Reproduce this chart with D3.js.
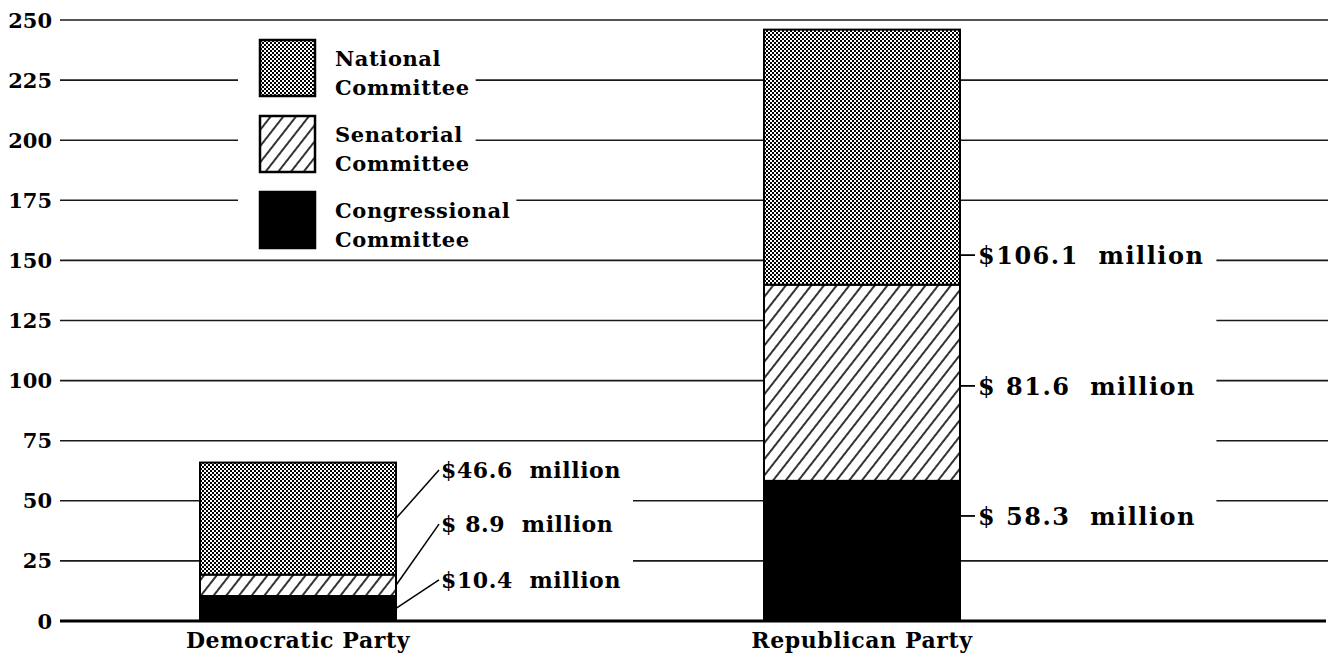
<!DOCTYPE html>
<html>
<head>
<meta charset="utf-8">
<script src="https://cdn.jsdelivr.net/npm/d3@7"></script>
<style>
  body { margin: 0; background: #fff; }
  svg text { font-family: "DejaVu Serif", "Liberation Serif", serif; font-weight: bold; fill: #000; }
</style>
</head>
<body>
<svg class="chart" width="1336" height="655"></svg>
<script>
const parties = ["Democratic Party", "Republican Party"];
const committees = ["National Committee", "Senatorial Committee", "Congressional Committee"];
// stacked bottom -> top: congressional, senatorial, national
const congressional = [10.4, 58.3];
const senatorial = [8.9, 81.6];
const national = [46.6, 106.1];
const yTicks = [0, 25, 50, 75, 100, 125, 150, 175, 200, 225, 250];

let svg = d3.select("svg.chart"),
    margin = {top: 20, bottom: 34, left: 60, right: 8},
    width = +svg.attr("width"),
    height = +svg.attr("height");

let y = d3.scaleLinear()
    .domain([0, 250])
    .range([height - margin.bottom, margin.top]);

let x = d3.scalePoint()
    .domain(parties)
    .range([298, 862]);
const barW = 196;

// patterns
let defs = svg.append("defs");
let checker = defs.append("pattern")
    .attr("id", "checker")
    .attr("patternUnits", "userSpaceOnUse")
    .attr("width", 4).attr("height", 4);
checker.append("rect").attr("width", 4).attr("height", 4).attr("fill", "#fff");
checker.append("rect").attr("width", 2).attr("height", 2).attr("fill", "#000");
checker.append("rect").attr("x", 2).attr("y", 2).attr("width", 2).attr("height", 2).attr("fill", "#000");

let hatch = defs.append("pattern")
    .attr("id", "hatch")
    .attr("patternUnits", "userSpaceOnUse")
    .attr("width", 10).attr("height", 10)
    .attr("patternTransform", "rotate(38)");
hatch.append("rect").attr("width", 10).attr("height", 10).attr("fill", "#fff");
hatch.append("line")
    .attr("x1", 5).attr("y1", 0).attr("x2", 5).attr("y2", 10)
    .attr("stroke", "#000").attr("stroke-width", 1.6);

const fills = {
    "National Committee": "url(#checker)",
    "Senatorial Committee": "url(#hatch)",
    "Congressional Committee": "#000"
};

// gridlines
svg.append("g")
    .selectAll("line")
    .data(yTicks.filter(d => d > 0))
    .join("line")
    .attr("x1", margin.left)
    .attr("x2", width - margin.right)
    .attr("y1", d => y(d))
    .attr("y2", d => y(d))
    .attr("stroke", "#1a1a1a")
    .attr("stroke-width", 1.6);

// y tick labels
svg.append("g")
    .selectAll("text")
    .data(yTicks)
    .join("text")
    .attr("x", 52)
    .attr("y", d => y(d))
    .attr("dy", "0.36em")
    .attr("text-anchor", "end")
    .style("font-size", "21px")
    .text(d => d);

// baseline
svg.append("line")
    .attr("x1", margin.left)
    .attr("x2", width - 10)
    .attr("y1", y(0))
    .attr("y2", y(0))
    .attr("stroke", "#000")
    .attr("stroke-width", 3);

// stacked data
let stacks = parties.map((p, i) => {
    let segs = [
        {name: "Congressional Committee", v: congressional[i]},
        {name: "Senatorial Committee", v: senatorial[i]},
        {name: "National Committee", v: national[i]}
    ];
    let acc = 0;
    segs.forEach(s => { s.y0 = acc; acc += s.v; s.y1 = acc; });
    return {party: p, segs: segs};
});

function fmtLabel(v, w) {
    let s = v.toFixed(1);
    while (s.length < w) s = " " + s;
    return "$" + s + "  million";
}

let layerBoxes = svg.append("g");
let labelLayer = svg.append("g");

// value labels: text centre in value units (layout), leader style per party
const labelAt = [[17.1, 40.3, 62.8], [43.7, 97.8, 152.2]];
const labelFont = [["22px", "0.6px"], ["24px", "1.5px"]];

stacks.forEach((st, i) => {
    let right = x(st.party) + barW / 2;
    let w = d3.max(st.segs, s => s.v.toFixed(1).length);
    let g = labelLayer.append("g");
    let tx = i === 0 ? right + 45 : right + 18;
    st.segs.forEach((s, j) => {
        let ty = y(labelAt[i][j]);
        g.append("text")
            .attr("x", tx)
            .attr("y", ty)
            .attr("dy", "0.36em")
            .style("font-size", labelFont[i][0])
            .style("letter-spacing", labelFont[i][1])
            .style("white-space", "pre")
            .text(fmtLabel(s.v, w));
        if (i === 0) {
            g.append("line")
                .attr("x1", right).attr("y1", y((s.y0 + s.y1) / 2))
                .attr("x2", tx - 2).attr("y2", ty)
                .attr("stroke", "#000").attr("stroke-width", 1.5);
        } else {
            g.append("line")
                .attr("x1", right).attr("y1", ty)
                .attr("x2", tx - 3).attr("y2", ty)
                .attr("stroke", "#000").attr("stroke-width", 1.8);
        }
    });
    let bb = g.node().getBBox();
    layerBoxes.append("rect")
        .attr("x", right)
        .attr("y", bb.y - 6)
        .attr("width", bb.x + bb.width - right + 12)
        .attr("height", bb.height + 12)
        .attr("fill", "#fff");
});

// bars
let bars = svg.append("g");
stacks.forEach(st => {
    bars.selectAll(null)
        .data(st.segs)
        .join("rect")
        .attr("x", x(st.party) - barW / 2)
        .attr("width", barW)
        .attr("y", d => y(d.y1))
        .attr("height", d => y(d.y0) - y(d.y1))
        .attr("fill", d => fills[d.name])
        .attr("stroke", "#000")
        .attr("stroke-width", 2);
});
labelLayer.raise();

// category labels
svg.append("g")
    .selectAll("text")
    .data(parties)
    .join("text")
    .attr("x", d => x(d))
    .attr("y", 648)
    .attr("text-anchor", "middle")
    .style("font-size", "22px")
    .style("letter-spacing", "0.6px")
    .text(d => d);

// legend
let legend = svg.append("g");
committees.forEach((c, i) => {
    let top = 40 + i * 76;
    let item = legend.append("g");
    item.append("rect")
        .attr("x", 260).attr("y", top)
        .attr("width", 55).attr("height", 56)
        .attr("fill", fills[c])
        .attr("stroke", "#000")
        .attr("stroke-width", 2.5);
    let words = c.split(" ");
    words.forEach((wd, k) => {
        item.append("text")
            .attr("x", 335)
            .attr("y", top + 18 + k * 29)
            .attr("dy", "0.36em")
            .style("font-size", "21px")
            .style("letter-spacing", "0.6px")
            .text(wd);
    });
    let bb = item.node().getBBox();
    item.insert("rect", ":first-child")
        .attr("x", bb.x - 22)
        .attr("y", bb.y - 4)
        .attr("width", bb.width + 28)
        .attr("height", bb.height + 8)
        .attr("fill", "#fff");
});
</script>
</body>
</html>
